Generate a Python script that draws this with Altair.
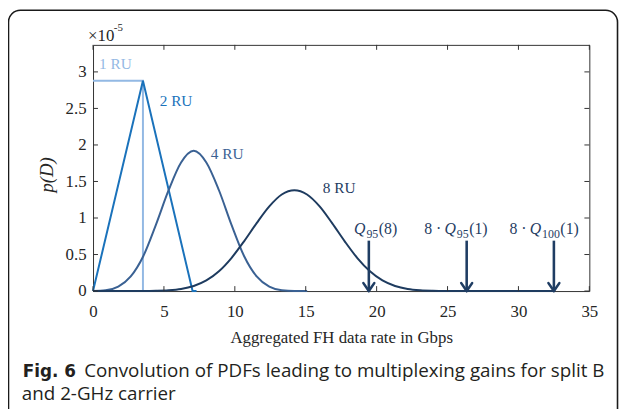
import altair as alt
import pandas as pd

# ---------------- data (y in units of 1e-5) ----------------
ru1_x = [0, 3.52, 3.52]
ru1_y = [2.88, 2.88, 0]

ru2_x = [0, 3.52, 7.02, 7.3]
ru2_y = [0, 2.88, 0, 0]

ru4_x = [0, 0.89, 1.78, 2.66, 3.55, 4.44, 5.33, 6.21, 7.1, 7.99, 8.88, 9.76,
         10.65, 11.54, 12.43, 13.31, 14.2, 15.1]
ru4_y = [0, 0.01, 0.06, 0.20, 0.48, 0.91, 1.38, 1.76, 1.92, 1.76, 1.38, 0.91,
         0.48, 0.20, 0.06, 0.01, 0, 0]

ru8_x = [0, 3.55, 4.44, 5.33, 6.21, 7.1, 7.99, 8.88, 9.76, 10.65, 11.54, 12.43,
         13.31, 14.2, 15.09, 15.98, 16.86, 17.75, 18.64, 19.53, 20.41, 21.3,
         22.19, 23.08, 23.96, 24.85, 28.4, 32.5]
ru8_y = [0, 0.0006, 0.003, 0.01, 0.028, 0.069, 0.145, 0.271, 0.452, 0.681, 0.93,
         1.159, 1.322, 1.381, 1.322, 1.159, 0.93, 0.681, 0.452, 0.271, 0.145,
         0.069, 0.028, 0.01, 0.003, 0.0006, 0, 0]

series_names = ["1 RU", "2 RU", "4 RU", "8 RU"]
series_colors = ["#93b9e4", "#1a72bb", "#3a6193", "#1e3b5f"]
label_x = [0.42, 4.7, 8.3, 16.2]
label_y = [3.11, 2.6, 1.88, 1.41]

arrow_x = [19.45, 26.35, 32.5]
arrow_top = [0.69, 0.69, 0.69]
arrow_prefix = ["", "8 \u00b7 ", "8 \u00b7 "]
arrow_sub = ["95", "95", "100"]
arrow_arg = ["(8)", "(1)", "(1)"]

x_ticks = [0, 5, 10, 15, 20, 25, 30, 35]
y_ticks = [0, 0.5, 1, 1.5, 2, 2.5, 3]

W, H = 502, 249
XMAX, YMAX = 35, 3.37
SERIF = "Liberation Serif"
TXT = "#262626"

rows = []
for name, xs_, ys_ in [("1 RU", ru1_x, ru1_y), ("2 RU", ru2_x, ru2_y),
                       ("4 RU", ru4_x, ru4_y), ("8 RU", ru8_x, ru8_y)]:
    for i, (xv, yv) in enumerate(zip(xs_, ys_)):
        rows.append({"series": name, "i": i, "x": xv, "y": yv})
df = pd.DataFrame(rows)

xs = alt.Scale(domain=[0, XMAX], nice=False, zero=False)
ys = alt.Scale(domain=[0, YMAX], nice=False, zero=False)
color = alt.Color("series:N", scale=alt.Scale(domain=series_names, range=series_colors), legend=None)

xaxis = alt.Axis(values=x_ticks, format="d", ticks=False, domain=False, grid=False,
                 labelFont=SERIF, labelFontSize=17, labelColor=TXT, labelPadding=13,
                 labelFlush=False, labelOverlap=False,
                 title="Aggregated FH data rate in Gbps", titleFont=SERIF, titleFontSize=17,
                 titleFontWeight="normal", titleColor=TXT, titleX=W / 2, titleY=47,
                 titleBaseline="middle")
yaxis = alt.Axis(values=y_ticks, format="~g", ticks=False, domain=False, grid=False,
                 labelFont=SERIF, labelFontSize=17, labelColor=TXT, labelPadding=7,
                 labelFlush=False, labelOverlap=False,
                 title="p(D)", titleFont=SERIF, titleFontSize=19, titleFontStyle="italic",
                 titleFontWeight="normal", titleColor=TXT, titleX=-47, titleY=131,
                 titleBaseline="middle")

base = alt.Chart(df)
lin = base.transform_filter(alt.FieldOneOfPredicate(field="series", oneOf=["1 RU", "2 RU"])).mark_line(
    strokeWidth=2, interpolate="linear").encode(
    x=alt.X("x:Q", scale=xs, axis=xaxis),
    y=alt.Y("y:Q", scale=ys, axis=yaxis),
    color=color, order="i:Q")
smooth = base.transform_filter(alt.FieldOneOfPredicate(field="series", oneOf=["4 RU", "8 RU"])).mark_line(
    strokeWidth=2, interpolate="monotone").encode(
    x=alt.X("x:Q", scale=xs), y=alt.Y("y:Q", scale=ys), color=color, order="i:Q")

lab_df = pd.DataFrame({"series": series_names, "x": label_x, "y": label_y})
labels = alt.Chart(lab_df).mark_text(font=SERIF, fontSize=15.5, align="left", baseline="middle").encode(
    x=alt.X("x:Q", scale=xs), y=alt.Y("y:Q", scale=ys), text="series:N", color=color)

# inward ticks
xt = pd.DataFrame({"v": x_ticks})
yt = pd.DataFrame({"v": y_ticks})
TK = "#333333"
tick_b = alt.Chart(xt).mark_rule(color=TK, strokeWidth=1).encode(
    x=alt.X("v:Q", scale=xs), y=alt.value(H), y2=alt.value(H - 5))
tick_t = alt.Chart(xt).mark_rule(color=TK, strokeWidth=1).encode(
    x=alt.X("v:Q", scale=xs), y=alt.value(0), y2=alt.value(5))
tick_l = alt.Chart(yt).mark_rule(color=TK, strokeWidth=1).encode(
    y=alt.Y("v:Q", scale=ys), x=alt.value(0), x2=alt.value(5))
tick_r = alt.Chart(yt).mark_rule(color=TK, strokeWidth=1).encode(
    y=alt.Y("v:Q", scale=ys), x=alt.value(W), x2=alt.value(W - 5))

# arrows
ARC = "#1f3d63"
adf = pd.DataFrame({"x": arrow_x, "top": arrow_top, "zero": [0, 0, 0]})
shafts = alt.Chart(adf).mark_rule(color=ARC, strokeWidth=2.6).encode(
    x=alt.X("x:Q", scale=xs), y=alt.Y("top:Q", scale=ys), y2="zero:Q")
arm_l = alt.Chart(adf).mark_rule(color=ARC, strokeWidth=2.6, strokeCap="round",
                                 x2Offset=-5.5, y2Offset=-8).encode(
    x=alt.X("x:Q", scale=xs), x2="x:Q", y=alt.Y("zero:Q", scale=ys), y2="zero:Q")
arm_r = alt.Chart(adf).mark_rule(color=ARC, strokeWidth=2.6, strokeCap="round",
                                 x2Offset=5.5, y2Offset=-8).encode(
    x=alt.X("x:Q", scale=xs), x2="x:Q", y=alt.Y("zero:Q", scale=ys), y2="zero:Q")

# arrow labels built from parts
FS, SUBFS = 16, 12
def width(s, fs):
    w = 0
    for ch in s:
        if ch.isdigit():
            w += 0.5
        elif ch in "()":
            w += 0.333
        elif ch in " \u00b7":
            w += 0.25
        elif ch == "Q":
            w += 0.722
        else:
            w += 0.5
    return w * fs

start_dx = [-15, -43, -45]
BASE_Y = 191
parts = []
for k in range(3):
    dx = start_dx[k]
    seq = []
    if arrow_prefix[k]:
        seq.append((arrow_prefix[k], FS, "normal", 0))
    seq.append(("Q", FS, "italic", 0))
    seq.append((arrow_sub[k], SUBFS, "normal", 4))
    seq.append((arrow_arg[k], FS, "normal", 0))
    for txt, fs, st, dy in seq:
        parts.append({"x": arrow_x[k], "t": txt, "fs": fs, "st": st, "dx": dx, "dy": dy})
        dx += width(txt, fs) + (1.0 if txt == "Q" else 0.5)
arrow_layers = []
for p in parts:
    arrow_layers.append(
        alt.Chart(pd.DataFrame({"x": [p["x"]], "t": [p["t"]]})).mark_text(
            font=SERIF, fontSize=p["fs"], fontStyle=p["st"], align="left",
            baseline="alphabetic", dx=p["dx"], dy=p["dy"], color=ARC).encode(
            x=alt.X("x:Q", scale=xs), y=alt.value(BASE_Y), text="t:N"))

# x10^-5 multiplier
mult1 = alt.Chart(pd.DataFrame({"t": ["\u00d710"]})).mark_text(
    font=SERIF, fontSize=17, align="left", baseline="alphabetic", color=TXT).encode(
    x=alt.value(-5), y=alt.value(-4), text="t:N")
mult2 = alt.Chart(pd.DataFrame({"t": ["-5"]})).mark_text(
    font=SERIF, fontSize=11, align="left", baseline="alphabetic", color=TXT).encode(
    x=alt.value(21), y=alt.value(-14), text="t:N")

# outer rounded frame
frame = alt.Chart(pd.DataFrame({"a": [0]})).mark_rect(
    fillOpacity=0, stroke="#1a1a1a", strokeWidth=1.6, cornerRadius=12).encode(
    x=alt.value(-85.5), x2=alt.value(530.5), y=alt.value(-35), y2=alt.value(430))

# caption
CAP = "Open Sans"
CFS = 19
cap1 = alt.Chart(pd.DataFrame({"t": ["Fig. 6"]})).mark_text(
    font="DejaVu Sans", fontSize=17, fontWeight="bold", align="left", baseline="alphabetic", color="#231f20").encode(
    x=alt.value(-71), y=alt.value(336), text="t:N")
cap2 = alt.Chart(pd.DataFrame({"t": ["Convolution of PDFs leading to multiplexing gains for split B"]})).mark_text(
    font=CAP, fontSize=CFS, align="left", baseline="alphabetic", color="#231f20").encode(
    x=alt.value(-9), y=alt.value(336), text="t:N")
cap3 = alt.Chart(pd.DataFrame({"t": ["and 2-GHz carrier"]})).mark_text(
    font=CAP, fontSize=CFS, align="left", baseline="alphabetic", color="#231f20").encode(
    x=alt.value(-72), y=alt.value(359), text="t:N")

chart = alt.layer(
    lin, smooth, labels, tick_b, tick_t, tick_l, tick_r, shafts, arm_l, arm_r, *arrow_layers,
    mult1, mult2, frame, cap1, cap2, cap3
).properties(
    width=W, height=H,
    padding={"left": 86, "top": 35, "right": 30, "bottom": 117},
    autosize=alt.AutoSizeParams(type="none"),
).configure_view(stroke="#333333", strokeWidth=1)

chart.save("out.html", embed_options={"renderer": "svg", "actions": False})
